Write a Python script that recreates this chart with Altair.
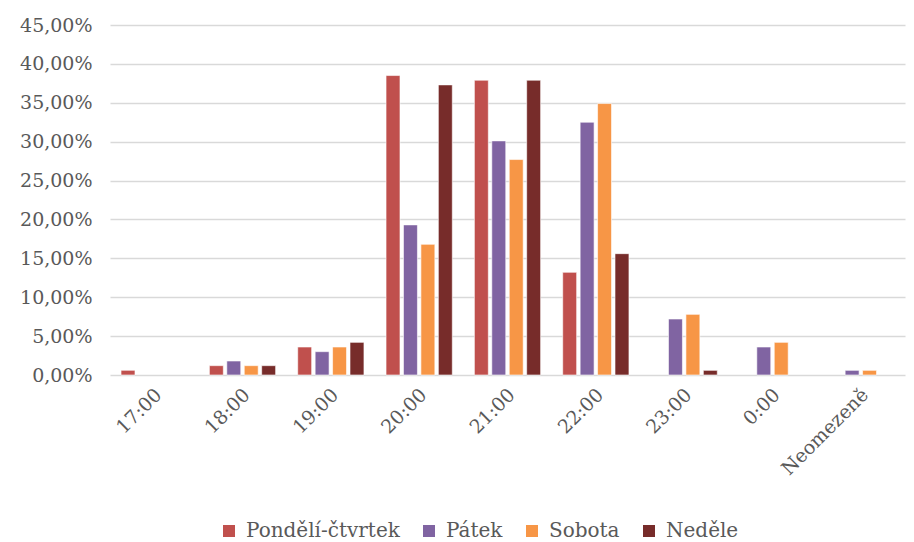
import altair as alt
import pandas as pd

categories = ["17:00", "18:00", "19:00", "20:00", "21:00", "22:00", "23:00", "0:00", "Neomezeně"]
series = ["Pondělí-čtvrtek", "Pátek", "Sobota", "Neděle"]
colors = ["#C0504D", "#8064A2", "#F79646", "#772C2A"]

pondeli_ctvrtek = [0.6, 1.2, 3.6, 38.5, 37.9, 13.2, 0.0, 0.0, 0.0]
patek = [0.0, 1.8, 3.0, 19.3, 30.1, 32.5, 7.2, 3.6, 0.6]
sobota = [0.0, 1.2, 3.6, 16.8, 27.7, 34.9, 7.8, 4.2, 0.6]
nedele = [0.0, 1.2, 4.2, 37.3, 37.9, 15.6, 0.6, 0.0, 0.0]

values = [pondeli_ctvrtek, patek, sobota, nedele]
rows = []
for s, vals in zip(series, values):
    for c, v in zip(categories, vals):
        rows.append({"cas": c, "den": s, "podil": v / 100.0})
df = pd.DataFrame(rows)

FONT = "DejaVu Serif"

chart = alt.Chart(df).transform_filter("datum.podil > 0").mark_bar(
    stroke="white", strokeWidth=0.6
).encode(
    x=alt.X("cas:N", sort=categories, title=None,
            scale=alt.Scale(domain=categories, paddingInner=0.25, paddingOuter=0.125),
            axis=alt.Axis(labelAngle=-45, labelFontSize=19, labelFont=FONT,
                          labelColor="#595959", ticks=False, domain=False,
                          labelPadding=10, labelOffset=-2)),
    xOffset=alt.XOffset("den:N", sort=series,
                        scale=alt.Scale(domain=series, paddingInner=0.2)),
    y=alt.Y("podil:Q", title=None,
            scale=alt.Scale(domain=[0, 0.45], nice=False),
            axis=alt.Axis(values=[i * 0.05 for i in range(10)],
                          labelExpr="replace(format(datum.value, '.2%'), '.', ',')",
                          labelFontSize=19, labelFont=FONT, labelColor="#595959",
                          ticks=False, domain=False, grid=True,
                          gridColor="#d9d9d9", gridWidth=1.5, labelPadding=18)),
    color=alt.Color("den:N", sort=series,
                    scale=alt.Scale(domain=series, range=colors),
                    legend=alt.Legend(orient="none", legendX=109, legendY=496,
                                      direction="horizontal", title=None,
                                      symbolType="square", symbolSize=144,
                                      symbolStrokeWidth=0, padding=0,
                                      labelFontSize=20, labelFont=FONT,
                                      labelOffset=7, labelLimit=400,
                                      labelColor="#595959", columnPadding=19)),
).properties(
    width=795,
    height=350,
    autosize=alt.AutoSizeParams(type="none"),
    padding={"left": 102, "top": 17, "right": 1, "bottom": 167},
).configure_view(stroke=None)

chart.save("out.html", embed_options={"renderer": "svg", "actions": False})
